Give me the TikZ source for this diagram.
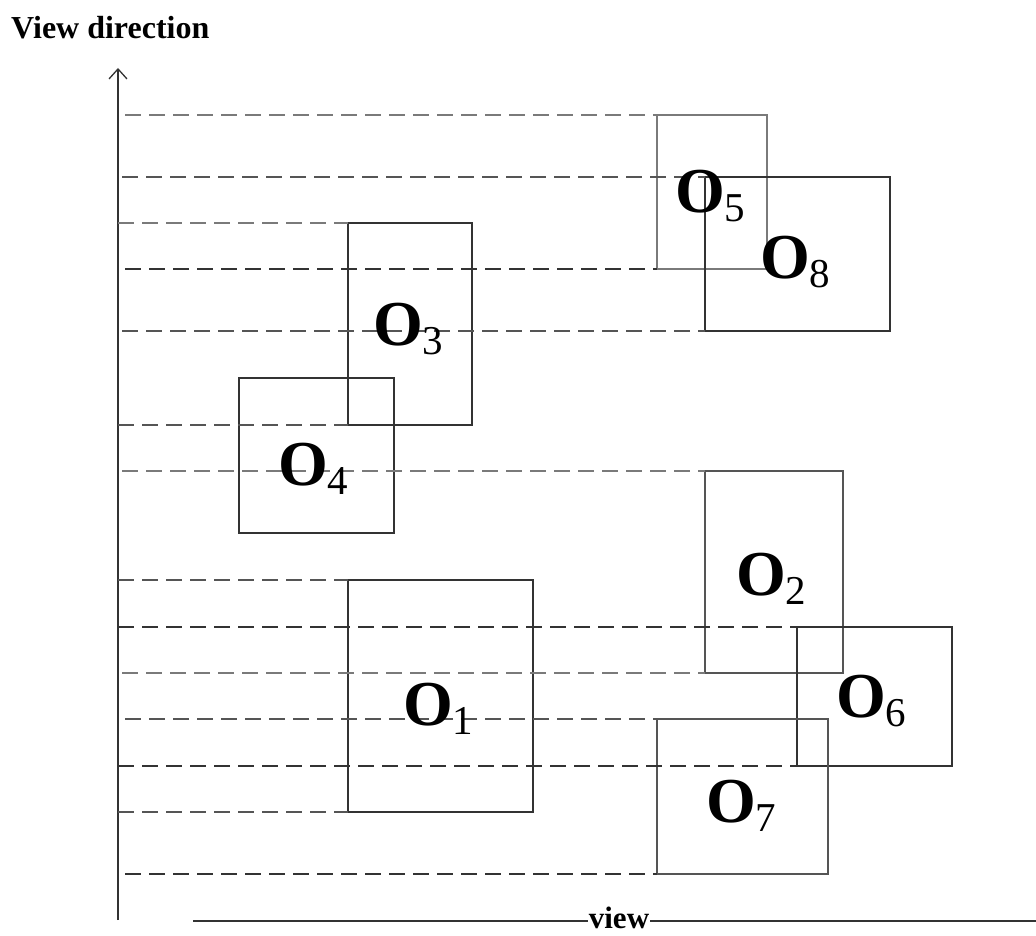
\documentclass[tikz,border=0pt]{standalone}
\usepackage{fontspec}
\setmainfont{Liberation Serif}
\usetikzlibrary{arrows.meta}
\definecolor{dk}{HTML}{333333}
\definecolor{md}{HTML}{555555}
\definecolor{lt}{HTML}{7A7A7A}
\newcommand\olab[1]{\textbf{O}\raisebox{-9pt}{\fontsize{41}{41}\selectfont #1}}
\tikzset{
  box/.style={draw=dk, line width=1.9pt, inner sep=0pt, outer sep=0pt, fill=none},
  dl/.style={line width=2.5pt, dash pattern=on 16pt off 8pt},
  lab/.style={anchor=base west, inner sep=0pt, font=\fontsize{64}{64}\selectfont},
}
\begin{document}
\begin{tikzpicture}[x=1pt,y=-1pt]
\useasboundingbox (0,0) rectangle (1036,936);
% title
\node[anchor=base west, inner sep=0pt, font=\fontsize{32}{32}\selectfont\bfseries] (title) at (11,39) {View direction};
% axis
\coordinate (axb) at (118,920);
\coordinate (axt) at (118,68);
\draw[line width=1.9pt, draw=dk, -{Straight Barb[length=10pt,width=18pt,line width=1.3pt]}] (axb) -- (axt);
% view line
\coordinate (vl) at (193,921);
\coordinate (vr) at (1036,921);
\node[anchor=base, inner sep=1pt, font=\fontsize{31}{31}\selectfont\bfseries] (view) at (619,928) {view};
\draw[line width=1.9pt, draw=dk] (vl) -- (view.west |- vl);
\draw[line width=1.9pt, draw=dk] (view.east |- vr) -- (vr);
% boxes
\node[box, draw=lt, minimum width=110pt, minimum height=154pt] (b5) at (712,192) {};
\node[box, minimum width=185pt, minimum height=154pt] (b8) at (797.5,254) {};
\node[box, minimum width=124pt, minimum height=202pt] (b3) at (410,324) {};
\node[box, minimum width=155pt, minimum height=155pt] (b4) at (316.5,455.5) {};
\node[box, draw=md, minimum width=138pt, minimum height=202pt] (b2) at (774,572) {};
\node[box, minimum width=185pt, minimum height=232pt] (b1) at (440.5,696) {};
\node[box, minimum width=155pt, minimum height=139pt] (b6) at (874.5,696.5) {};
\node[box, draw=md, minimum width=171pt, minimum height=155pt] (b7) at (742.5,796.5) {};
% dashed line starts
\coordinate (s1) at (125,115);
\coordinate (s2) at (122,177);
\coordinate (s3) at (118,223);
\coordinate (s4) at (125,269);
\coordinate (s5) at (122,331);
\coordinate (s6) at (118,425);
\coordinate (s7) at (122,471);
\coordinate (s8) at (118,580);
\coordinate (s9) at (118,627);
\coordinate (s10) at (122,673);
\coordinate (s11) at (125,719);
\coordinate (s12) at (118,766);
\coordinate (s13) at (118,812);
\coordinate (s14) at (125,874);
\draw[dl, draw=lt] (s1) -- (s1 -| b5.north west);
\draw[dl, draw=md] (s2) -- (s2 -| b8.north west);
\draw[dl, draw=lt] (s3) -- (s3 -| b3.north west);
\draw[dl, draw=dk] (s4) -- (s4 -| b5.south west);
\draw[dl, draw=md] (s5) -- (s5 -| b8.south west);
\draw[dl, draw=md] (s6) -- (s6 -| b3.south west);
\draw[dl, draw=lt] (s7) -- (s7 -| b2.north west);
\draw[dl, draw=md] (s8) -- (s8 -| b1.north west);
\draw[dl, draw=dk] (s9) -- (s9 -| b6.north west);
\draw[dl, draw=lt] (s10) -- (s10 -| b2.south west);
\draw[dl, draw=md] (s11) -- (s11 -| b7.north west);
\draw[dl, draw=dk] (s12) -- (s12 -| b6.south west);
\draw[dl, draw=md] (s13) -- (s13 -| b1.south west);
\draw[dl, draw=dk] (s14) -- (s14 -| b7.south west);
% labels
\node[lab] (l5) at (675,213) {\olab{5}};
\node[lab] (l8) at (760,278) {\olab{8}};
\node[lab] (l3) at (373,345) {\olab{3}};
\node[lab] (l4) at (278,485) {\olab{4}};
\node[lab] (l2) at (736,595) {\olab{2}};
\node[lab] (l1) at (403,725) {\olab{1}};
\node[lab] (l6) at (836,717) {\olab{6}};
\node[lab] (l7) at (706,822) {\olab{7}};
\end{tikzpicture}
\end{document}
